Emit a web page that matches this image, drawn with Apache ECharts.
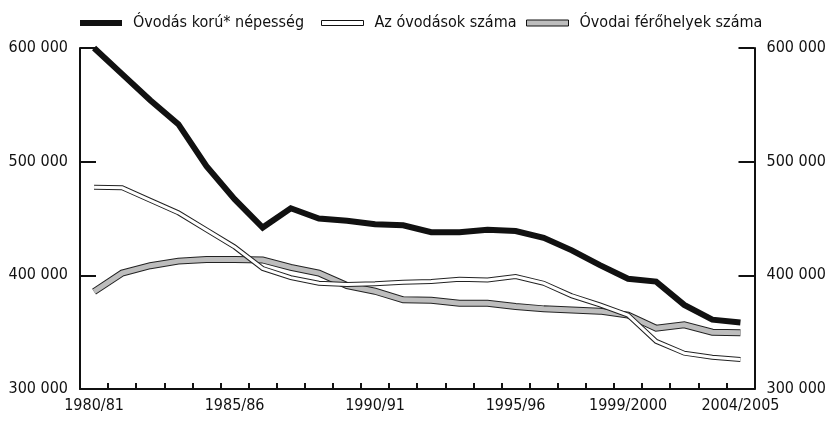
<!DOCTYPE html>
<html>
<head>
<meta charset="utf-8">
<script src="https://cdn.jsdelivr.net/npm/echarts@6/dist/echarts.min.js"></script>
<style>
  html, body { margin: 0; padding: 0; background: #fff; }
  #chart { width: 829px; height: 421px; }
</style>
</head>
<body>
<div id="chart"></div>
<script>
  // tanévek (a forrás ábrán az utolsó felirat 2004/2005)
  const years = ['1980/81', '1981/82', '1982/83', '1983/84', '1984/85', '1985/86', '1986/87', '1987/88',
    '1988/89', '1989/90', '1990/91', '1991/92', '1992/93', '1993/94', '1994/95', '1995/96', '1996/97',
    '1997/98', '1998/99', '1999/2000', '2000/01', '2001/02', '2002/03', '2004/2005'];
  const shownLabels = [0, 5, 10, 15, 19, 23];

  const nepesseg = [600000, 577000, 554000, 533000, 496000, 467000, 442000, 459000, 450000, 448000, 445000, 444000,
    438000, 438000, 440000, 439000, 433000, 422000, 409000, 397000, 394500, 374000, 361000, 358500];
  const ovodak = [477500, 477000, 466000, 455000, 440000, 425000, 406000, 398000, 393000, 392000, 392500, 394000,
    394500, 396500, 396000, 399000, 393000, 382000, 374000, 365000, 342000, 331500, 328000, 326000];
  const ferohelyek = [385600, 402000, 408500, 412500, 414000, 414000, 413500, 407000, 402000, 391000, 386000, 378500,
    378000, 375500, 375500, 372500, 370500, 369500, 368500, 365000, 353500, 356500, 350000, 349500];

  const FONT = '"DejaVu Sans Condensed", "Liberation Sans Narrow", sans-serif';
  const fmt = v => String(v).replace(/\B(?=(\d{3})+(?!\d))/g, ' ');

  const yAxisBase = {
    type: 'value',
    min: 300000,
    max: 600000,
    interval: 100000,
    axisLine: { show: true, lineStyle: { color: '#111', width: 2 } },
    axisTick: { show: true, inside: true, length: 16, lineStyle: { color: '#111', width: 2 } },
    splitLine: { show: false },
    axisLabel: { color: '#111', fontSize: 16, fontFamily: FONT, margin: 12, formatter: fmt }
  };

  const lineSeries = (name, data, color, width, z) => ({
    name: name,
    type: 'line',
    data: data,
    symbol: 'none',
    z: z,
    silent: true,
    lineStyle: { color: color, width: width, join: 'miter', cap: 'butt' },
    itemStyle: { color: color }
  });

  const legendBase = {
    top: 15,
    padding: 0,
    itemWidth: 42,
    itemGap: 0,
    textStyle: { color: '#111', fontSize: 16, fontFamily: FONT, padding: [0, 0, 0, 6] },
    selectedMode: false
  };

  const chart = echarts.init(document.getElementById('chart'), null, { renderer: 'canvas' });
  chart.setOption({
    animation: false,
    backgroundColor: '#fff',
    legend: [
      Object.assign({}, legendBase, {
        left: 80, itemHeight: 6,
        data: [{ name: 'Óvodás korú* népesség', icon: 'rect', itemStyle: { color: '#111', borderWidth: 0 } }]
      }),
      Object.assign({}, legendBase, {
        left: 321, itemHeight: 5,
        data: [{ name: 'Az óvodások száma', icon: 'rect', itemStyle: { color: '#fff', borderColor: '#111', borderWidth: 1 } }]
      }),
      Object.assign({}, legendBase, {
        left: 526, itemHeight: 6,
        data: [{ name: 'Óvodai férőhelyek száma', icon: 'rect', itemStyle: { color: '#bdbdbd', borderColor: '#111', borderWidth: 1 } }]
      })
    ],
    grid: { left: 80, right: 72, top: 48, bottom: 32, containLabel: false },
    xAxis: {
      type: 'category',
      data: years,
      boundaryGap: true,
      axisLine: { show: true, lineStyle: { color: '#111', width: 2 } },
      axisTick: { show: true, inside: true, length: 6, interval: 0, lineStyle: { color: '#111', width: 2 } },
      axisLabel: {
        color: '#111', fontSize: 16, fontFamily: FONT, margin: 9,
        interval: i => shownLabels.includes(i)
      },
      splitLine: { show: false }
    },
    yAxis: [
      Object.assign({}, yAxisBase, { position: 'left' }),
      Object.assign({}, yAxisBase, { position: 'right' })
    ],
    series: [
      // férőhelyek: sötét körvonal + szürke belső
      lineSeries('_ferohely_korvonal', ferohelyek, '#222', 7, 2),
      lineSeries('Óvodai férőhelyek száma', ferohelyek, '#bdbdbd', 5, 3),
      // óvodák: sötét körvonal + fehér belső
      lineSeries('_ovoda_korvonal', ovodak, '#222', 5, 4),
      lineSeries('Az óvodások száma', ovodak, '#fff', 3, 5),
      lineSeries('Óvodás korú* népesség', nepesseg, '#111', 6, 6)
    ]
  });
</script>
</body>
</html>
